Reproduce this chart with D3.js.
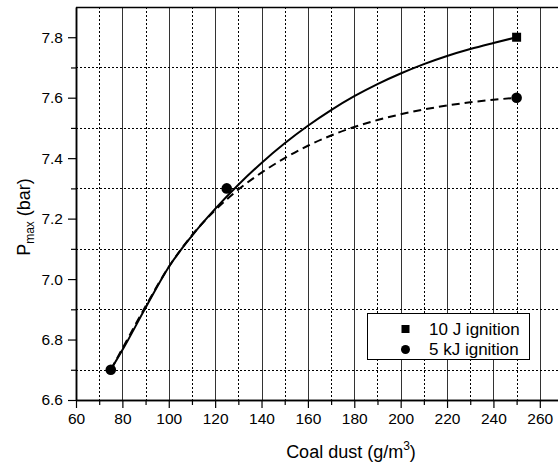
<!DOCTYPE html>
<html>
<head>
<meta charset="utf-8">
<script src="https://cdn.jsdelivr.net/npm/d3@7"></script>
<style>
  body { margin: 0; background: #fff; }
  svg { display: block; font-family: "Liberation Sans", Arial, sans-serif; }
  .axis path, .axis line { stroke: #000; }
  .axis text { font-size: 15.5px; fill: #000; }
</style>
</head>
<body>
<div id="chart"></div>
<script>
// data
var xMajor = [60, 80, 100, 120, 140, 160, 180, 200, 220, 240, 260];
var xMinor = [70, 90, 110, 130, 150, 170, 190, 210, 230, 250, 270];
var yMajor = [6.6, 6.8, 7.0, 7.2, 7.4, 7.6, 7.8];
var yMinor = [6.7, 6.9, 7.1, 7.3, 7.5, 7.7];

// measured points
var pts10J = [[250, 7.8]];
var pts5kJ = [[75, 6.7], [125, 7.3], [250, 7.6]];

// fitted curves as drawn
var fit10J = [[75, 6.7], [80, 6.765], [90, 6.905], [100, 7.04], [110, 7.143], [120, 7.232],
  [130, 7.312], [140, 7.384], [150, 7.449], [160, 7.507], [170, 7.559], [180, 7.605],
  [190, 7.645], [200, 7.68], [210, 7.711], [220, 7.738], [230, 7.761], [240, 7.781], [250, 7.8]];
var fit5kJ = [[75, 6.7], [80, 6.77], [90, 6.91], [100, 7.04], [110, 7.145], [120, 7.228],
  [130, 7.296], [140, 7.352], [150, 7.40], [160, 7.441], [170, 7.475], [180, 7.503],
  [190, 7.526], [200, 7.545], [210, 7.561], [220, 7.574], [230, 7.585], [240, 7.593], [250, 7.6]];

var legendLabels = ["10 J ignition", "5 kJ ignition"];

var svgWidth = 558;
var svgHeight = 465;

var plot = { left: 76, top: 7, right: 563, bottom: 400 };

var svg = d3.select("#chart")
    .append("svg")
    .attr("width", svgWidth)
    .attr("height", svgHeight);

var xScale = d3.scaleLinear().domain([60, 270]).range([plot.left, plot.right]);
var yScale = d3.scaleLinear().domain([6.6, 7.9]).range([plot.bottom, plot.top]);

svg.append("clipPath").attr("id", "clip")
  .append("rect")
  .attr("x", plot.left).attr("y", plot.top)
  .attr("width", plot.right - plot.left).attr("height", plot.bottom - plot.top);

var gridGroup = svg.append("g").attr("clip-path", "url(#clip)");

// vertical grid: solid at major, dotted at minor
gridGroup.selectAll(".vmaj")
  .data(xMajor.slice(1))
  .enter().append("line")
  .attr("x1", d => Math.round(xScale(d)) + 0.5)
  .attr("x2", d => Math.round(xScale(d)) + 0.5)
  .attr("y1", plot.top).attr("y2", plot.bottom)
  .attr("stroke", "#333").attr("stroke-width", 1);

gridGroup.selectAll(".vmin")
  .data(xMinor)
  .enter().append("line")
  .attr("x1", d => Math.round(xScale(d)) + 0.5)
  .attr("x2", d => Math.round(xScale(d)) + 0.5)
  .attr("y1", plot.top).attr("y2", plot.bottom)
  .attr("stroke", "#000").attr("stroke-width", 1)
  .attr("stroke-dasharray", "2,2");

// horizontal grid: dotted at minor only
gridGroup.selectAll(".hmin")
  .data(yMinor)
  .enter().append("line")
  .attr("x1", plot.left).attr("x2", plot.right)
  .attr("y1", d => Math.round(yScale(d)) + 0.5)
  .attr("y2", d => Math.round(yScale(d)) + 0.5)
  .attr("stroke", "#000").attr("stroke-width", 1)
  .attr("stroke-dasharray", "2,2");

// top frame
svg.append("line")
  .attr("x1", plot.left).attr("x2", svgWidth)
  .attr("y1", plot.top + 0.5).attr("y2", plot.top + 0.5)
  .attr("stroke", "#000").attr("stroke-width", 1.5);

// axes
var xAxis = svg.append("g").attr("class", "axis")
  .attr("transform", `translate(0, ${plot.bottom})`)
  .call(d3.axisBottom(xScale).tickValues(xMajor).tickSize(8).tickSizeOuter(0).tickPadding(5)
    .tickFormat(d3.format("d")));
svg.append("g").attr("class", "axis")
  .attr("transform", `translate(0, ${plot.bottom})`)
  .call(d3.axisBottom(xScale).tickValues(xMinor).tickSize(5).tickSizeOuter(0).tickFormat(""));

var yAxis = svg.append("g").attr("class", "axis")
  .attr("transform", `translate(${plot.left}, 0)`)
  .call(d3.axisLeft(yScale).tickValues(yMajor).tickSize(8).tickSizeOuter(0).tickPadding(5)
    .tickFormat(d3.format(".1f")));
svg.append("g").attr("class", "axis")
  .attr("transform", `translate(${plot.left}, 0)`)
  .call(d3.axisLeft(yScale).tickValues(yMinor).tickSize(5).tickSizeOuter(0).tickFormat(""));

svg.selectAll(".axis path.domain").attr("stroke-width", 1.5);
svg.selectAll(".axis line").attr("stroke-width", 1.2);

// curves
var line = d3.line()
  .x(d => xScale(d[0]))
  .y(d => yScale(d[1]))
  .curve(d3.curveMonotoneX);

svg.append("path")
  .datum(fit10J)
  .attr("d", line)
  .attr("fill", "none").attr("stroke", "#000").attr("stroke-width", 2);

svg.append("path")
  .datum(fit5kJ)
  .attr("d", line)
  .attr("fill", "none").attr("stroke", "#000").attr("stroke-width", 2)
  .attr("stroke-dasharray", "8,5");

// markers
svg.selectAll(".sq")
  .data(pts10J)
  .enter().append("rect")
  .attr("x", d => xScale(d[0]) - 4.5)
  .attr("y", d => yScale(d[1]) - 4.5)
  .attr("width", 9).attr("height", 9)
  .attr("fill", "#000");

svg.selectAll(".dot")
  .data(pts5kJ)
  .enter().append("circle")
  .attr("cx", d => xScale(d[0]))
  .attr("cy", d => yScale(d[1]))
  .attr("r", 5.3)
  .attr("fill", "#000");

// axis titles
svg.append("text")
  .attr("x", 351).attr("y", 458)
  .attr("text-anchor", "middle")
  .attr("font-size", 18)
  .html('Coal dust (g/m<tspan dy="-8" font-size="12">3</tspan><tspan dy="8">)</tspan>');

svg.append("text")
  .attr("transform", "translate(30, 217) rotate(-90)")
  .attr("text-anchor", "middle")
  .attr("font-size", 18)
  .html('P<tspan dy="4" font-size="12">max</tspan><tspan dy="-4"> (bar)</tspan>');

// legend
var legend = svg.append("g");
legend.append("rect")
  .attr("x", 367.5).attr("y", 313.5)
  .attr("width", 162).attr("height", 46)
  .attr("fill", "#fff").attr("stroke", "#000").attr("stroke-width", 1);

legend.append("rect")
  .attr("x", 401.5).attr("y", 325)
  .attr("width", 8).attr("height", 8)
  .attr("fill", "#000");
legend.append("circle")
  .attr("cx", 405.5).attr("cy", 349.5).attr("r", 4.5)
  .attr("fill", "#000");

legend.selectAll(".lt")
  .data(legendLabels)
  .enter().append("text")
  .attr("x", 429)
  .attr("y", (d, i) => 334.5 + i * 20.5)
  .attr("font-size", 17)
  .text(d => d);
</script>
</body>
</html>
